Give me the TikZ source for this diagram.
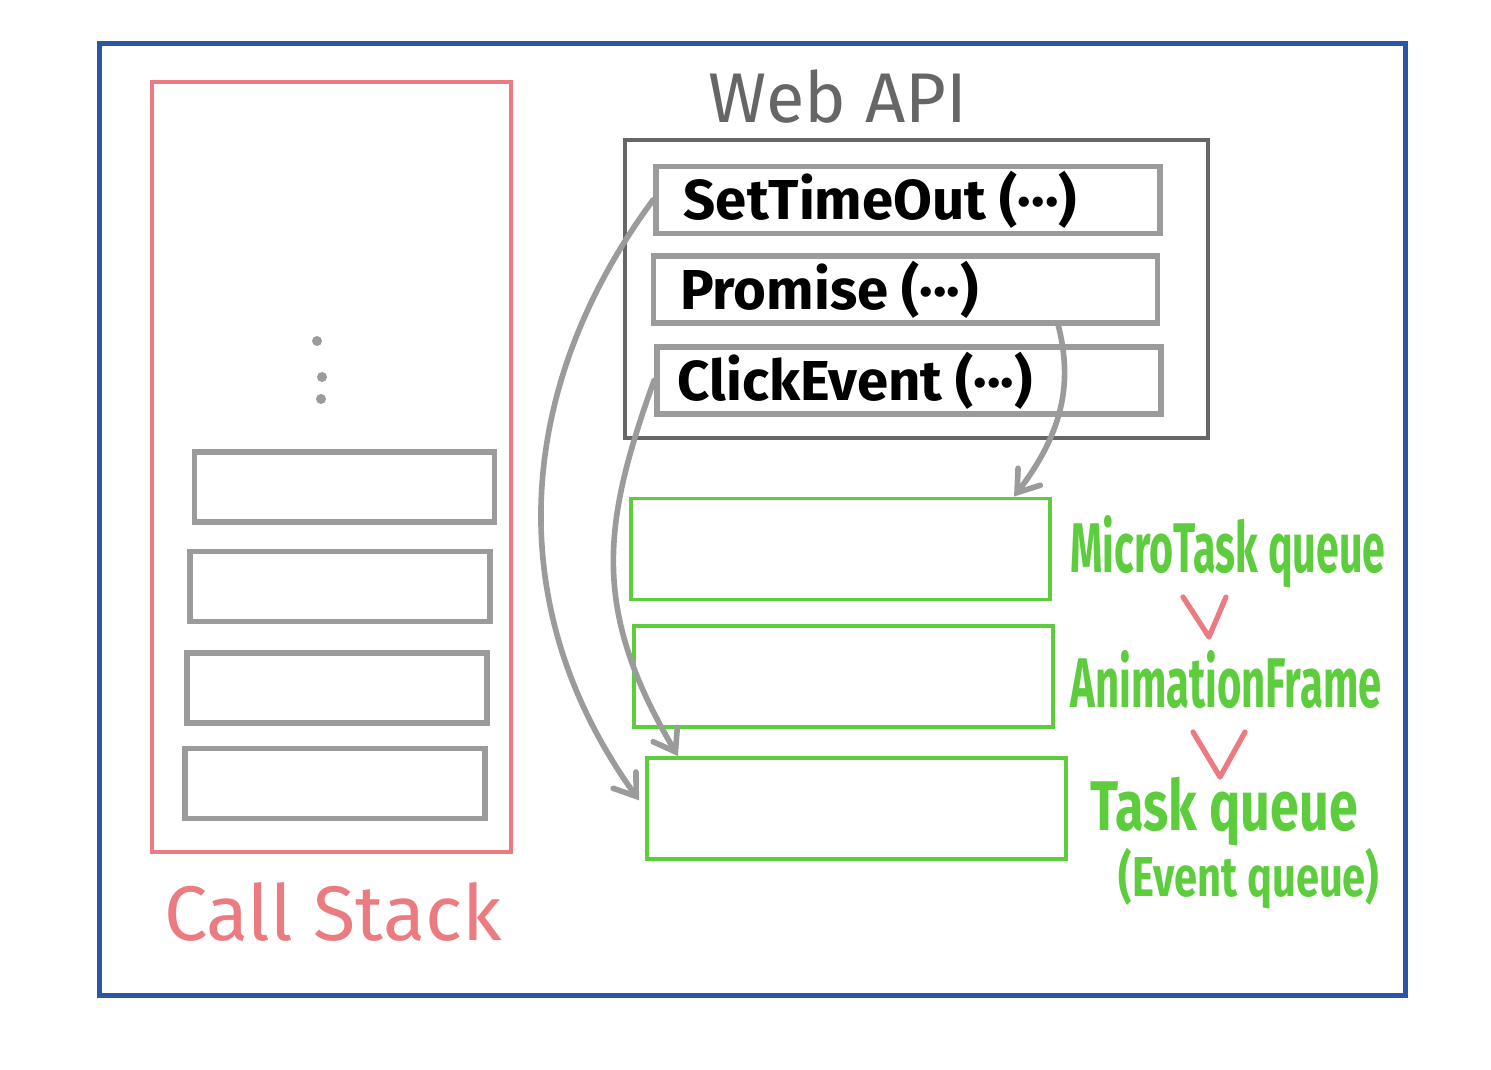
\documentclass[tikz,border=0pt]{standalone}
\usepackage{fontspec}
\setmainfont{Fira Sans}
\usetikzlibrary{arrows.meta,positioning}

\definecolor{frameblue}{HTML}{2A57A3}
\definecolor{stackred}{HTML}{EB7B80}
\definecolor{boxgray}{HTML}{9B9B9B}
\definecolor{apigray}{HTML}{666666}
\definecolor{queuegreen}{HTML}{5DCD3E}

\tikzset{
    stackbox/.style={draw=boxgray, line width=1.6pt, inner sep=0pt, minimum width=3cm, minimum height=0.7cm},
    apibox/.style={draw=boxgray, line width=1.6pt, inner sep=0pt, minimum width=5.04cm, minimum height=0.67cm},
    queuebox/.style={draw=queuegreen, line width=1.1pt, inner sep=0pt, minimum width=4.19cm, minimum height=1.01cm},
    apilabel/.style={anchor=west, inner sep=0pt, font=\bfseries\fontsize{16}{19}\selectfont},
    queuelabel/.style={text=queuegreen, inner sep=0pt, transform shape, font=\bfseries\fontsize{20}{24}\selectfont},
    flow/.style={->, draw=boxgray, line width=1.6pt, line cap=round},
    chevron/.style={draw=stackred, line width=1.5pt, line cap=round, line join=round}
}

\begin{document}
\begin{tikzpicture}[x=0.01cm, y=-0.01cm, >={Straight Barb[length=2mm, width=2.8mm, line cap=round]}]
    \useasboundingbox (0,0) rectangle (1491,1070);

    % Frame and call stack
    \node [draw=frameblue, line width=1.3pt, minimum width=13.05cm, minimum height=9.51cm] (frame) at (752.5,519.5) {};
    \node [draw=stackred, line width=1.1pt, minimum width=3.59cm, minimum height=7.7cm] (stack) at (331.5,467) {};
    \node [text=stackred, font=\fontsize{22}{26}\selectfont] (stacklabel) at (333,912) {Call Stack};

    \node [stackbox] (c1) at (344.5,487) {};
    \node [stackbox] (c2) at (340,586.5) {};
    \node [stackbox] (c3) at (337,688) {};
    \node [stackbox] (c4) at (335,783.5) {};

    % Dots above the frames
    \fill [boxgray] (317,341) circle (5) (322,377) circle (5) (321,399) circle (5);

    % Web API
    \node [text=apigray, font=\fontsize{20}{24}\selectfont] (apilabel) at (838,97) {Web API};
    \node [draw=apigray, line width=1.3pt, minimum width=5.83cm, minimum height=2.98cm] (webapi) at (916.5,289) {};

    \node [apibox] (timeout) at (908,200) {};
    \node [apibox] (promise) at (905.5,289.5) {};
    \node [apibox] (click)   at (909,380.5) {};

    \node [apilabel, right=0.3cm of timeout.west] {SetTimeOut (···)};
    \node [apilabel, right=0.29cm of promise.west] {Promise (···)};
    \node [apilabel, right=0.23cm of click.west]   {ClickEvent (···)};

    % Queues
    \node [queuebox] (micro) at (840.5,549) {};
    \node [queuebox] (anim)  at (843.5,676.5) {};
    \node [queuebox] (task)  at (856.5,808.5) {};

    \node [queuelabel, xscale=0.585] (microlabel) at (1228,552) {MicroTask queue};
    \node [queuelabel, xscale=0.595] (animlabel)  at (1226,680) {AnimationFrame};
    \node [queuelabel, xscale=0.74] (tasklabel)  at (1224,812) {Task queue};
    \node [queuelabel, xscale=0.74, font=\bfseries\fontsize{16}{19}\selectfont] (eventlabel) at (1249,879) {(Event queue)};

    \draw [chevron] (1183,597) -- (1209,637) -- (1226,597);
    \draw [chevron] (1193,732) -- (1220,777) -- (1245,732);

    % Paths
    \draw [flow, shorten >=1mm] (timeout.west) .. controls (520,380) and (495,600) .. (task.west);
    \draw [flow] (click.west) .. controls (603,523) and (590,608) .. ([xshift=0.33cm]task.north west);
    \draw [flow] ([xshift=-1.02cm]promise.south east) .. controls (1072,380) and (1065,430) .. ([xshift=-0.38cm]micro.north east);
\end{tikzpicture}
\end{document}
